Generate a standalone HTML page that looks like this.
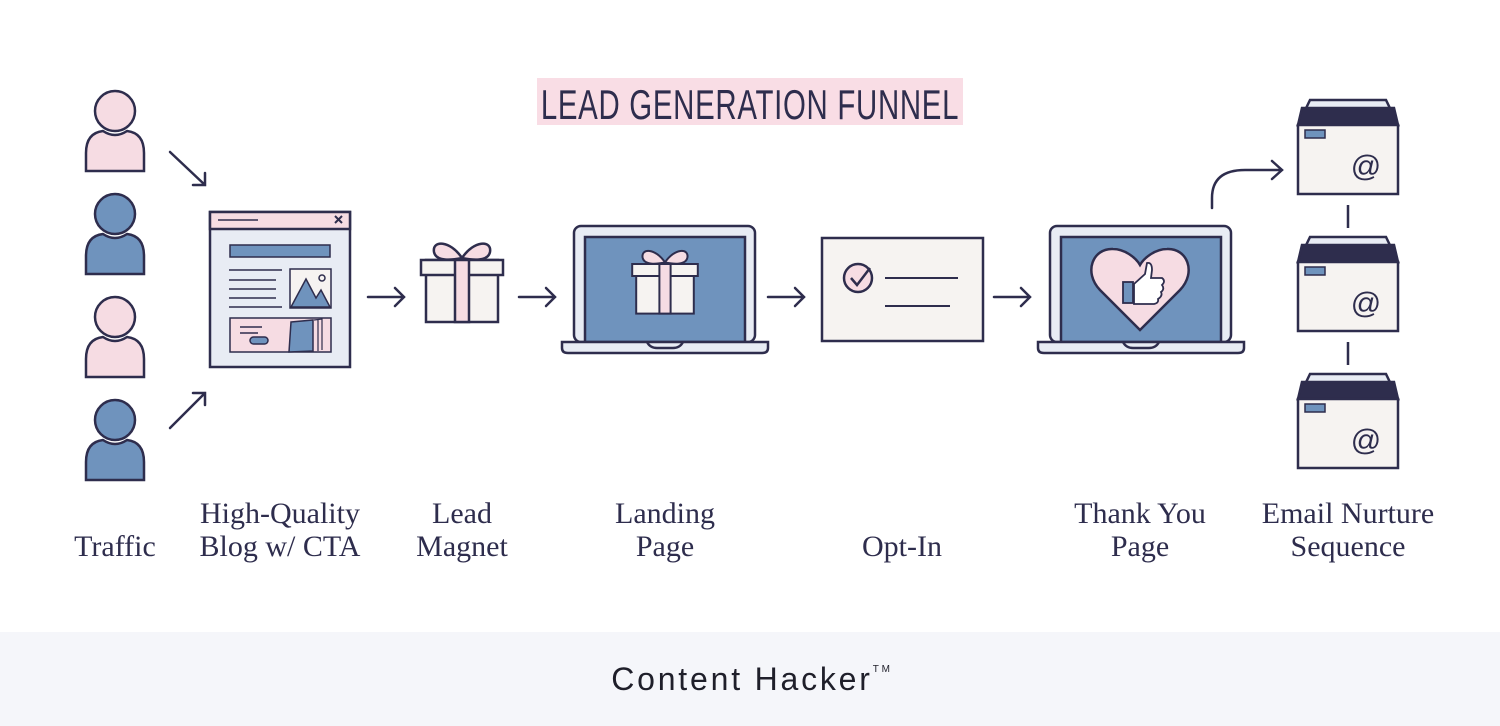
<!DOCTYPE html>
<html><head><meta charset="utf-8"><style>
html,body{margin:0;padding:0;background:#fff}
svg{display:block}
.lbl{font-family:"Liberation Serif",serif;font-size:30px;fill:#2e2d4d;text-anchor:middle}
</style></head><body>
<svg width="1500" height="726" viewBox="0 0 1500 726" xmlns="http://www.w3.org/2000/svg">
<defs>
<g id="person" stroke="#2e2d4d" stroke-width="2.5">
<circle cx="0" cy="0" r="20"/>
<path d="M-29 60 V42 Q-29 22 -12 20 Q0 28 12 20 Q29 22 29 42 V60 Z"/>
</g>
<g id="arr" fill="none" stroke="#2e2d4d" stroke-width="2.5" stroke-linecap="round"><path d="M0 0 H36 M27 -9 L36 0 L27 9"/></g>
<g id="env" stroke="#2e2d4d" stroke-width="2.5">
<path d="M12 0 H88 L100 25 H0 Z" fill="#e8ecf4"/>
<path d="M4 8 H96 L100 25 H0 Z" fill="#2e2d4d"/>
<rect x="0" y="25" width="100" height="69" fill="#f6f3f1"/>
<rect x="7" y="30" width="20" height="8" fill="#6f93bd" stroke-width="1.5"/>
<text x="68" y="76" font-family="Liberation Sans,sans-serif" font-size="30" fill="#2e2d4d" stroke="none" text-anchor="middle">@</text>
</g>
<g id="laptop" stroke="#2e2d4d" stroke-width="2.5">
<rect x="12" y="0" width="181" height="116" rx="7" fill="#e8ecf4"/>
<rect x="23" y="11" width="160" height="105" fill="#6f93bd"/>
<path d="M0 116 H206 V122 Q206 127 200 127 H6 Q0 127 0 122 Z" fill="#e8ecf4"/>
<path d="M85 116 Q88 122 95 122 H111 Q118 122 121 116" fill="none"/>
</g>
<g id="gift" stroke="#2e2d4d" stroke-width="2.5">
<path d="M0 -2 C-12 -20 -30 -20 -28 -8 C-26 2 -10 0 0 -2 Z M0 -2 C12 -20 30 -20 28 -8 C26 2 10 0 0 -2 Z" fill="#f6dce3"/>
<rect x="-36" y="0" width="72" height="62" fill="#f6f3f1"/>
<rect x="-41" y="0" width="82" height="15" fill="#f6f3f1"/>
<rect x="-7" y="0" width="14" height="62" fill="#f6dce3"/>
</g>
</defs>
<rect x="0" y="632" width="1500" height="94" fill="#f5f6fa"/>
<rect x="537" y="78" width="426" height="47" fill="#f9dde5"/>
<text x="750" y="119" font-family="Liberation Sans,sans-serif" font-size="42" fill="#2e2d4d" text-anchor="middle" transform="translate(750 0) scale(0.7 1) translate(-750 0)" letter-spacing="1">LEAD GENERATION FUNNEL</text>

<use href="#person" x="115" y="111" fill="#f6dce3"/>
<use href="#person" x="115" y="214" fill="#6f93bd"/>
<use href="#person" x="115" y="317" fill="#f6dce3"/>
<use href="#person" x="115" y="420" fill="#6f93bd"/>
<g fill="none" stroke="#2e2d4d" stroke-width="2.5" stroke-linecap="round">
<path d="M170 152 L205 185 M193 185 H205 V173"/>
<path d="M170 428 L205 393 M193 393 H205 V405"/>
</g>

<g stroke="#2e2d4d" stroke-width="2.5">
<rect x="210" y="212" width="140" height="155" fill="#e8ecf4"/>
<rect x="210" y="212" width="140" height="17" fill="#f6dce3"/>
<line x1="218" y1="220" x2="258" y2="220" stroke-width="1.5"/>
<path d="M335 216 l7 7 m0 -7 l-7 7" stroke-width="2"/>
<rect x="230" y="245" width="100" height="12" fill="#6f93bd" stroke-width="1.5"/>
<path d="M229 270 H282 M229 280 H276 M229 289 H276 M229 298 H276 M229 307 H282" stroke-width="1.5"/>
<rect x="290" y="269" width="41" height="39" fill="#f6f3f1" stroke-width="1.5"/>
<path d="M291 307 L306 279 L316 298 L321 290 L330 307 Z" fill="#6f93bd" stroke-width="1.5"/>
<circle cx="322" cy="278" r="3" fill="none" stroke-width="1.5"/>
<rect x="230" y="318" width="101" height="34" fill="#f6dce3" stroke-width="1.5"/>
<path d="M240 327 H262 M240 333 H258" stroke-width="1.5"/>
<rect x="250" y="337" width="18" height="7" rx="3.5" fill="#6f93bd" stroke-width="1.5"/>
<path d="M291 322 L313 320 L313 351 L289 352 Z" fill="#6f93bd" stroke-width="1.5"/>
<path d="M314 320 L322 319 L322 350 M318 320 V351" fill="none" stroke-width="1.2"/>
</g>
<use href="#arr" x="368" y="297"/>
<use href="#gift" x="462" y="260"/>
<use href="#arr" x="519" y="297"/>
<use href="#laptop" x="562" y="226"/>
<use href="#gift" transform="translate(665 264) scale(0.8)"/>
<use href="#arr" x="768" y="297"/>
<g stroke="#2e2d4d" stroke-width="2.5">
<rect x="822" y="238" width="161" height="103" fill="#f6f3f1"/>
<circle cx="858" cy="278" r="14" fill="#f6dce3"/>
<path d="M851 278 L857 285 L870 268" fill="none"/>
<path d="M885 278 H958 M885 306 H950" fill="none" stroke-width="2"/>
</g>
<use href="#arr" x="994" y="297"/>
<use href="#laptop" x="1038" y="226"/>
<g stroke="#2e2d4d" stroke-width="2.5">
<path d="M1140 330 L1100 290 C1083 272 1093 248 1113 249 C1125 249 1136 258 1140 265 C1144 258 1155 249 1167 249 C1187 248 1197 272 1180 290 Z" fill="#f6dce3"/>
<rect x="1123" y="282" width="10" height="21" fill="#6f93bd" stroke-width="1.8"/>
<path d="M1134 284 L1145 274 L1147 263 Q1152 262 1152 270 L1151 278 H1162 Q1166 281 1162 285 Q1165 289 1161 292 Q1163 296 1158 299 Q1159 303 1154 304 H1134 Z" fill="#fff" stroke-width="1.8"/>
</g>
<path d="M1212 208 V198 Q1212 170 1245 170 H1282 M1272 161 L1282 170 L1272 179" fill="none" stroke="#2e2d4d" stroke-width="2.5" stroke-linecap="round"/>
<use href="#env" x="1298" y="100"/>
<use href="#env" x="1298" y="237"/>
<use href="#env" x="1298" y="374"/>
<path d="M1348 205 V228 M1348 342 V365" stroke="#2e2d4d" stroke-width="2.5"/>

<text class="lbl" x="115" y="556">Traffic</text>
<text class="lbl" x="280" y="523">High-Quality</text>
<text class="lbl" x="280" y="556">Blog w/ CTA</text>
<text class="lbl" x="462" y="523">Lead</text>
<text class="lbl" x="462" y="556">Magnet</text>
<text class="lbl" x="665" y="523">Landing</text>
<text class="lbl" x="665" y="556">Page</text>
<text class="lbl" x="902" y="556">Opt-In</text>
<text class="lbl" x="1140" y="523">Thank You</text>
<text class="lbl" x="1140" y="556">Page</text>
<text class="lbl" x="1348" y="523">Email Nurture</text>
<text class="lbl" x="1348" y="556">Sequence</text>
<text x="752" y="690" font-family="Liberation Sans,sans-serif" font-size="32" fill="#1f1f2a" text-anchor="middle" letter-spacing="2.8">Content Hacker<tspan font-size="10" dy="-18">TM</tspan></text>
</svg>
</body></html>
